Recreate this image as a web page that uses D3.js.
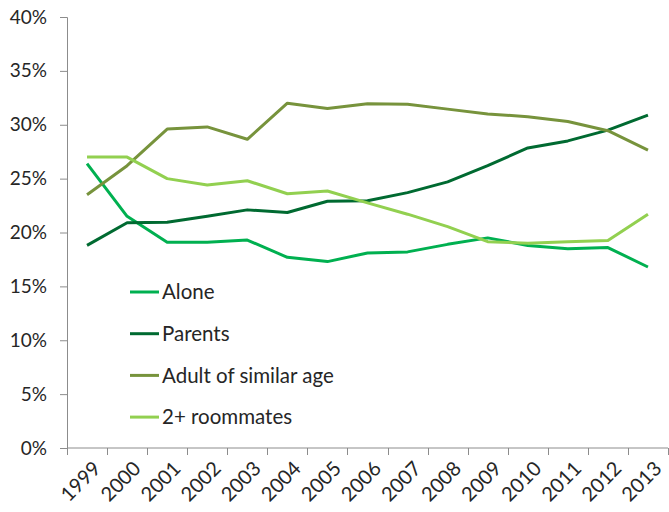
<!DOCTYPE html>
<html>
<head>
<meta charset="utf-8">
<script src="https://cdn.jsdelivr.net/npm/d3@7"></script>
<style>
  html, body { margin: 0; padding: 0; background: #fff; }
  svg text { font-family: Lato, "Open Sans", sans-serif; fill: #262626; }
</style>
</head>
<body>
<svg id="chart" width="669" height="512"></svg>
<script>
// Living arrangements by year (share of respondents, %)
const years = ["1999","2000","2001","2002","2003","2004","2005","2006","2007","2008","2009","2010","2011","2012","2013"];
const alone     = [26.4, 21.5, 19.1, 19.1, 19.3, 17.7, 17.3, 18.1, 18.2, 18.9, 19.5, 18.8, 18.5, 18.6, 16.8];
const parents   = [18.8, 20.9, 20.95, 21.5, 22.1, 21.85, 22.9, 22.95, 23.7, 24.7, 26.2, 27.85, 28.5, 29.5, 30.9];
const adultAge  = [23.5, 26.2, 29.6, 29.8, 28.65, 32.0, 31.5, 31.95, 31.9, 31.45, 31.0, 30.75, 30.3, 29.45, 27.65];
const roommates = [27.0, 27.0, 25.0, 24.4, 24.8, 23.6, 23.85, 22.75, 21.7, 20.55, 19.15, 19.0, 19.15, 19.25, 21.7];
const seriesNames = ["Alone", "Parents", "Adult of similar age", "2+ roommates"];
const yTicks = [0, 5, 10, 15, 20, 25, 30, 35, 40];

const series = [
  { name: seriesNames[0], values: alone,     color: "#00B050" },
  { name: seriesNames[1], values: parents,   color: "#006A31" },
  { name: seriesNames[2], values: adultAge,  color: "#77933C" },
  { name: seriesNames[3], values: roommates, color: "#92D050" }
];

const svg = d3.select("#chart");
const margin = { left: 67, right: 1, top: 17, bottom: 64 };
const W = 669, H = 512;

const x = d3.scaleBand().domain(years).range([margin.left, W - margin.right]);
const y = d3.scaleLinear().domain([0, 40]).range([H - margin.bottom, margin.top]);

// Y axis
const yAxis = svg.append("g")
  .attr("transform", `translate(${margin.left},0)`)
  .call(d3.axisLeft(y).tickValues(yTicks).tickFormat(d => d + "%").tickSize(7).tickPadding(13));
yAxis.select(".domain").attr("stroke", "#8c8c8c");
yAxis.selectAll(".tick line").attr("stroke", "#8c8c8c");
yAxis.selectAll(".tick text").style("font-size", "19px");

// X axis: ticks on band boundaries, labels at band centres
const xAxisG = svg.append("g").attr("transform", `translate(0,${y(0)})`);
xAxisG.append("line")
  .attr("x1", margin.left).attr("x2", W - margin.right)
  .attr("stroke", "#8c8c8c");
const boundaries = years.map(d => x(d)).concat([x(years[years.length - 1]) + x.bandwidth()]);
xAxisG.selectAll("line.tk").data(boundaries).enter().append("line")
  .attr("class", "tk")
  .attr("x1", d => Math.round(d) + 0.5).attr("x2", d => Math.round(d) + 0.5)
  .attr("y1", 0).attr("y2", 7)
  .attr("stroke", "#8c8c8c");
xAxisG.selectAll("text").data(years).enter().append("text")
  .attr("transform", d => `translate(${x(d) + x.bandwidth() / 2 + 5},${12}) rotate(-45)`)
  .attr("text-anchor", "end")
  .attr("dy", "0.7em")
  .style("font-size", "20px")
  .text(d => d);

// Series lines
const line = d3.line()
  .x((d, i) => x(years[i]) + x.bandwidth() / 2)
  .y(d => y(d));

svg.append("g").selectAll("path").data(series).enter().append("path")
  .attr("d", d => line(d.values))
  .attr("fill", "none")
  .attr("stroke", d => d.color)
  .attr("stroke-width", 3)
  .attr("stroke-linejoin", "round");

// Legend
const legend = svg.append("g").attr("transform", "translate(130,292)");
const lg = legend.selectAll("g").data(series).enter().append("g")
  .attr("transform", (d, i) => `translate(0,${i * 41.7})`);
lg.append("line")
  .attr("x1", 0).attr("x2", 29)
  .attr("stroke", d => d.color).attr("stroke-width", 3);
lg.append("text")
  .attr("x", 32).attr("dy", "0.35em")
  .style("font-size", "20.5px")
  .text(d => d.name);
</script>
</body>
</html>
